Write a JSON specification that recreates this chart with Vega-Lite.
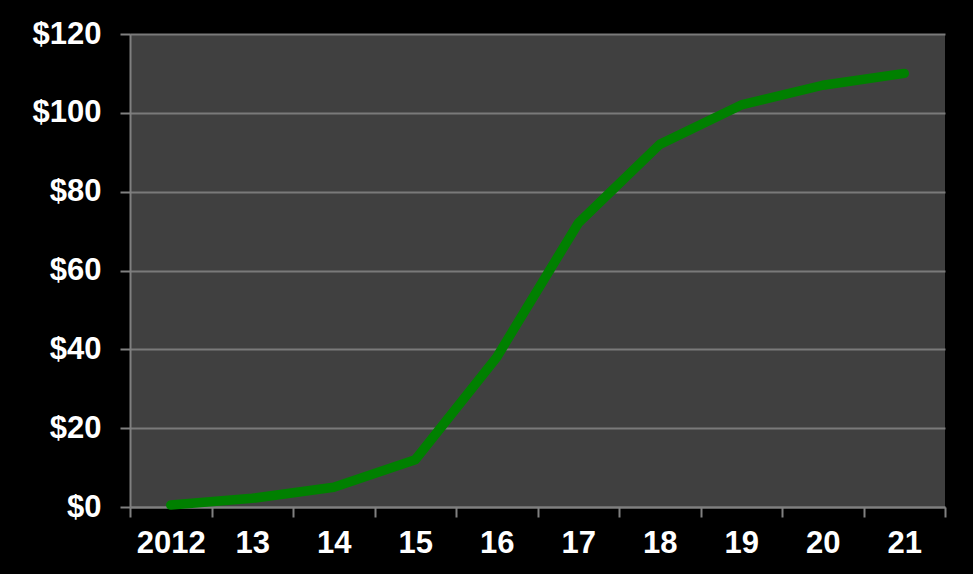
{
  "$schema": "https://vega.github.io/schema/vega-lite/v6.json",
  "autosize": "none",
  "width": 815,
  "height": 473,
  "padding": {"left": 130, "top": 34, "right": 28, "bottom": 67},
  "background": "#000000",
  "config": {
    "view": {"fill": "#404040", "stroke": null},
    "font": "Liberation Sans"
  },
  "data": {
    "values": [
      {"year": "2012", "value": 0.5},
      {"year": "13", "value": 2.2},
      {"year": "14", "value": 5},
      {"year": "15", "value": 12},
      {"year": "16", "value": 38},
      {"year": "17", "value": 72},
      {"year": "18", "value": 92},
      {"year": "19", "value": 102},
      {"year": "20", "value": 107},
      {"year": "21", "value": 110}
    ]
  },
  "mark": {"type": "line", "color": "#008000", "strokeWidth": 9.5, "strokeCap": "round", "strokeJoin": "round"},
  "encoding": {
    "x": {
      "field": "year",
      "type": "nominal",
      "sort": null,
      "bandPosition": 0.5,
      "scale": {"type": "band", "paddingInner": 0, "paddingOuter": 0},
      "axis": {
        "title": null,
        "labelAngle": 0,
        "tickBand": "extent",
        "labelColor": "#ffffff",
        "labelFont": "Liberation Sans",
        "labelFontWeight": "bold",
        "labelFontSize": 31,
        "labelPadding": 11,
        "tickSize": 10,
        "tickColor": "#808080",
        "tickWidth": 2,
        "domainColor": "#808080",
        "domainWidth": 2,
        "grid": false
      }
    },
    "y": {
      "field": "value",
      "type": "quantitative",
      "scale": {"domain": [0, 120]},
      "axis": {
        "title": null,
        "values": [0, 20, 40, 60, 80, 100, 120],
        "labelExpr": "'$' + datum.value",
        "labelColor": "#ffffff",
        "labelFont": "Liberation Sans",
        "labelFontWeight": "bold",
        "labelFontSize": 31,
        "labelPadding": 19,
        "tickSize": 10,
        "tickColor": "#808080",
        "tickWidth": 2,
        "domainColor": "#808080",
        "domainWidth": 2,
        "grid": true,
        "gridColor": "#7a7a7a",
        "gridWidth": 2
      }
    }
  }
}
